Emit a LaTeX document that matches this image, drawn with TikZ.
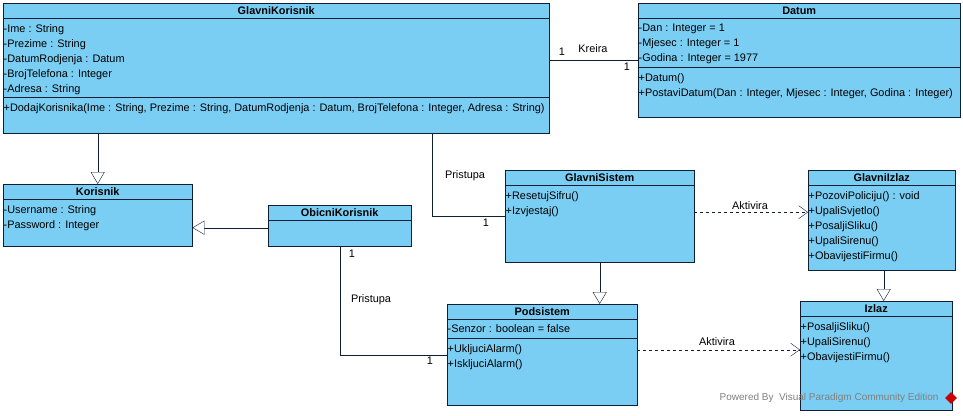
\documentclass[tikz,border=0pt]{standalone}
\usepackage{fontspec}
\setmainfont{Liberation Sans}
\usepackage{tikz}
\usetikzlibrary{arrows.meta,positioning,shapes.geometric}
\definecolor{umlfill}{RGB}{122,206,244}
\definecolor{umlline}{RGB}{15,30,50}

\begin{document}
\begin{tikzpicture}[
    x=1pt, y=-1pt,
    font=\fontsize{10.9}{15}\selectfont,
    umlclass/.style={draw=umlline, fill=umlfill, anchor=north west, inner sep=0pt},
    classname/.style={anchor=north, font=\fontsize{10.9}{15}\selectfont\bfseries, inner sep=0pt, minimum height=15pt},
    members/.style={anchor=north west, align=left, inner xsep=0.5pt, inner ysep=1pt},
    lbl/.style={inner sep=1pt},
    gen/.style={-{Triangle[open, length=12pt, width=14pt, fill=white]}, umlline},
    assoc/.style={umlline},
    dep/.style={-{Straight Barb[length=9pt, width=13pt]}, dashed, umlline}
]

\useasboundingbox (0,0) rectangle (963,415);

% Classes
\node[umlclass, minimum width=546pt, minimum height=130pt] (gk) at (3,3) {};
\node[classname] (gk-t) at (gk.north) {GlavniKorisnik};
\draw[umlline] ([yshift=-15pt]gk.north west) -- ([yshift=-15pt]gk.north east);
\draw[umlline] ([yshift=-94pt]gk.north west) -- ([yshift=-94pt]gk.north east);
\node[members] (gk-a) at ([yshift=-20pt]gk.north west) {-Ime : String\\-Prezime : String\\-DatumRodjenja : Datum\\-BrojTelefona : Integer\\-Adresa : String};
\node[members] (gk-o) at ([yshift=-99pt]gk.north west) {+DodajKorisnika(Ime : String, Prezime : String, DatumRodjenja : Datum, BrojTelefona : Integer, Adresa : String)};

\node[umlclass, minimum width=322pt, minimum height=114pt] (datum) at (638,3) {};
\node[classname] (datum-t) at (datum.north) {Datum};
\draw[umlline] ([yshift=-15pt]datum.north west) -- ([yshift=-15pt]datum.north east);
\draw[umlline] ([yshift=-64pt]datum.north west) -- ([yshift=-64pt]datum.north east);
\node[members] (datum-a) at ([yshift=-20pt]datum.north west) {-Dan : Integer = 1\\-Mjesec : Integer = 1\\-Godina : Integer = 1977};
\node[members] (datum-o) at ([yshift=-69pt]datum.north west) {+Datum()\\+PostaviDatum(Dan : Integer, Mjesec : Integer, Godina : Integer)};

\node[umlclass, minimum width=189pt, minimum height=62pt] (korisnik) at (3,184) {};
\node[classname] (korisnik-t) at (korisnik.north) {Korisnik};
\draw[umlline] ([yshift=-15pt]korisnik.north west) -- ([yshift=-15pt]korisnik.north east);
\node[members] (korisnik-a) at ([yshift=-20pt]korisnik.north west) {-Username : String\\-Password : Integer};

\node[umlclass, minimum width=143pt, minimum height=41pt] (obicni) at (268,205) {};
\node[classname] (obicni-t) at (obicni.north) {ObicniKorisnik};
\draw[umlline] ([yshift=-15pt]obicni.north west) -- ([yshift=-15pt]obicni.north east);

\node[umlclass, minimum width=189pt, minimum height=92pt] (gsistem) at (505,170) {};
\node[classname] (gsistem-t) at (gsistem.north) {GlavniSistem};
\draw[umlline] ([yshift=-15pt]gsistem.north west) -- ([yshift=-15pt]gsistem.north east);
\node[members] (gsistem-o) at ([yshift=-20pt]gsistem.north west) {+ResetujSifru()\\+Izvjestaj()};

\node[umlclass, minimum width=147pt, minimum height=100pt] (gizlaz) at (808,170) {};
\node[classname] (gizlaz-t) at (gizlaz.north) {GlavniIzlaz};
\draw[umlline] ([yshift=-15pt]gizlaz.north west) -- ([yshift=-15pt]gizlaz.north east);
\node[members] (gizlaz-o) at ([yshift=-20pt]gizlaz.north west) {+PozoviPoliciju() : void\\+UpaliSvjetlo()\\+PosaljiSliku()\\+UpaliSirenu()\\+ObavijestiFirmu()};

\node[umlclass, minimum width=190pt, minimum height=101pt] (podsistem) at (447,304) {};
\node[classname] (podsistem-t) at (podsistem.north) {Podsistem};
\draw[umlline] ([yshift=-15pt]podsistem.north west) -- ([yshift=-15pt]podsistem.north east);
\draw[umlline] ([yshift=-34pt]podsistem.north west) -- ([yshift=-34pt]podsistem.north east);
\node[members] (podsistem-a) at ([yshift=-19pt]podsistem.north west) {-Senzor : boolean = false};
\node[members] (podsistem-o) at ([yshift=-39pt]podsistem.north west) {+UkljuciAlarm()\\+IskljuciAlarm()};

\node[umlclass, minimum width=152pt, minimum height=109pt] (izlaz) at (800,301) {};
\node[classname] (izlaz-t) at (izlaz.north) {Izlaz};
\draw[umlline] ([yshift=-15pt]izlaz.north west) -- ([yshift=-15pt]izlaz.north east);
\node[members] (izlaz-o) at ([yshift=-20pt]izlaz.north west) {+PosaljiSliku()\\+UpaliSirenu()\\+ObavijestiFirmu()};

% Generalizations
\draw[gen] (korisnik.north |- gk.south) -- (korisnik.north);
\draw[gen] ([yshift=-2pt]obicni.west) -- ([yshift=-2pt]obicni.west -| korisnik.east);
\draw[gen] (gsistem.south) -- (gsistem.south |- podsistem.north);
\draw[gen] ([xshift=2pt]gizlaz.south) -- ([xshift=2pt]gizlaz.south |- izlaz.north);

% Associations
\draw[assoc] (datum.west -| gk.east) -- (datum.west);
\node[lbl] (kreira-1a) at (562,52) {1};
\node[lbl] (kreira) at (593,49) {Kreira};
\node[lbl] (kreira-1b) at (627,67) {1};

\draw[assoc] ([xshift=-117pt]gk.south east) |- (gsistem.west);
\node[lbl] (prist-a) at (465,176) {Pristupa};
\node[lbl] (prist-a1) at (486,223) {1};

\draw[assoc] (obicni.south) |- (podsistem.west);
\node[lbl] (prist-b0) at (352,254) {1};
\node[lbl] (prist-b) at (371,300) {Pristupa};
\node[lbl] (prist-b1) at (430,361) {1};

% Dependencies
\draw[dep] ([yshift=4pt]gsistem.east) -- ([yshift=4pt]gsistem.east -| gizlaz.west);
\node[lbl] (aktiv-a) at (750,206) {Aktivira};
\draw[dep] ([yshift=5pt]podsistem.east) -- ([yshift=5pt]podsistem.east -| izlaz.west);
\node[lbl] (aktiv-b) at (717,342) {Aktivira};

% Watermark
\node[anchor=east, text=gray, font=\fontsize{10}{12}\selectfont] (vp) at (942,398) {Powered By\ \ Visual Paradigm Community Edition};
\node[diamond, fill=red!80!black, minimum size=12pt, inner sep=0pt] (vplogo) at (951,398) {};

\end{tikzpicture}
\end{document}
